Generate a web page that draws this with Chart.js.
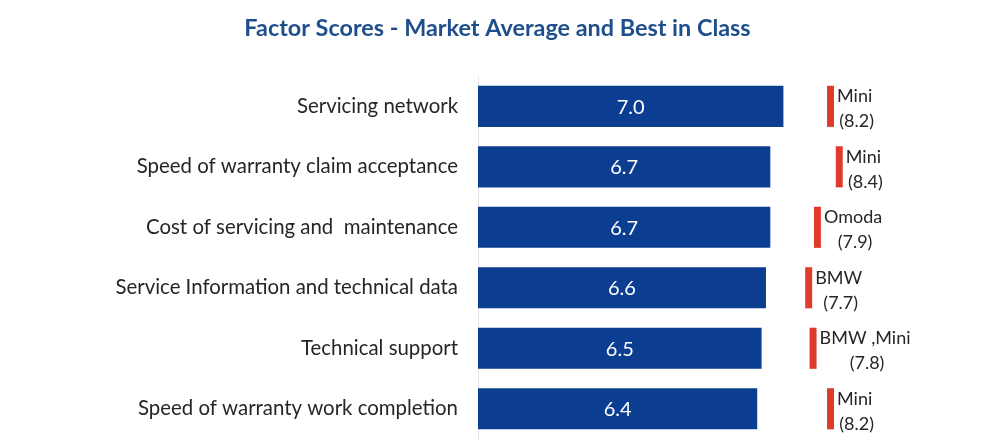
<!DOCTYPE html>
<html>
<head>
<meta charset="utf-8">
<script src="https://cdn.jsdelivr.net/npm/chart.js@4/dist/chart.umd.min.js"></script>
<style>
  html, body { margin: 0; padding: 0; background: #ffffff; }
  #wrap { width: 995px; height: 442px; }
</style>
</head>
<body>
<div id="wrap"><canvas id="factorChart"></canvas></div>
<script>
// 類別與數值
const factors = [
  'Servicing network',
  'Speed of warranty claim acceptance',
  'Cost of servicing and  maintenance',
  'Service Information and technical data',
  'Technical support',
  'Speed of warranty work completion'
];
const marketAverage = [7.0, 6.7, 6.7, 6.6, 6.5, 6.4];
const bestScore = [8.2, 8.4, 7.9, 7.7, 7.8, 8.2];
const bestBrand = ['Mini', 'Mini', 'Omoda', 'BMW', 'BMW ,Mini', 'Mini'];

const FONT = 'Lato, "Open Sans", sans-serif';
const MARK_W = 0.16;   // 紅色標記寬度（分數單位）
const MARK_SHIFT = 0.12;

// 紅色標記：以最佳分數為中心的浮動長條
const markerData = bestScore.map(v => [v - MARK_SHIFT - MARK_W / 2, v - MARK_SHIFT + MARK_W / 2]);

// 長條內的白色數值 + 標記旁的品牌文字
const labelPlugin = {
  id: 'labelPlugin',
  afterDatasetsDraw(chart) {
    const ctx = chart.ctx;
    ctx.save();
    const bars = chart.getDatasetMeta(0).data;
    ctx.font = '20px ' + FONT;
    ctx.fillStyle = '#ffffff';
    ctx.textAlign = 'center';
    ctx.textBaseline = 'middle';
    bars.forEach((bar, i) => {
      ctx.fillText(marketAverage[i].toFixed(1), (bar.base + bar.x) / 2, bar.y + 1);
    });

    const marks = chart.getDatasetMeta(1).data;
    ctx.font = '18px ' + FONT;
    ctx.fillStyle = '#262626';
    marks.forEach((m, i) => {
      const left = Math.max(m.x, m.base) + 3;
      const w = ctx.measureText(bestBrand[i]).width;
      const cx = left + w / 2;
      ctx.fillText(bestBrand[i], cx, m.y - 10);
      ctx.fillText('(' + bestScore[i].toFixed(1) + ')', cx + 2, m.y + 15);
    });
    ctx.restore();
  }
};

new Chart(document.getElementById('factorChart'), {
  type: 'bar',
  data: {
    labels: factors,
    datasets: [{
      label: 'Market average',
      data: marketAverage,
      backgroundColor: '#0b3d91',
      borderWidth: 0,
      grouped: false,
      categoryPercentage: 0.68,
      barPercentage: 1
    }, {
      label: 'Best in class',
      data: markerData,
      backgroundColor: '#e03a2c',
      borderWidth: 0,
      grouped: false,
      categoryPercentage: 0.68,
      barPercentage: 1
    }]
  },
  options: {
    indexAxis: 'y',
    responsive: true,
    maintainAspectRatio: false,
    animation: false,
    layout: {
      padding: { left: 0, right: 0, top: 0, bottom: 3 }
    },
    scales: {
      x: {
        display: false,
        min: 0,
        max: 11.85
      },
      y: {
        grid: { display: false, drawTicks: false },
        border: { display: true, color: '#e4e4e4', width: 1 },
        ticks: {
          color: '#262626',
          padding: 20,
          font: { family: FONT, size: 20.4 }
        },
        afterFit(scale) {
          scale.width = 478;
          scale.paddingTop = 0;
          scale.paddingBottom = 0;
        }
      }
    },
    plugins: {
      legend: { display: false },
      tooltip: { enabled: false },
      title: {
        display: true,
        text: 'Factor Scores - Market Average and Best in Class',
        color: '#1f4e8c',
        font: { family: FONT, size: 23.4, weight: 'bold' },
        padding: { top: 14, bottom: 34 }
      }
    }
  },
  plugins: [labelPlugin]
});
</script>
</body>
</html>
